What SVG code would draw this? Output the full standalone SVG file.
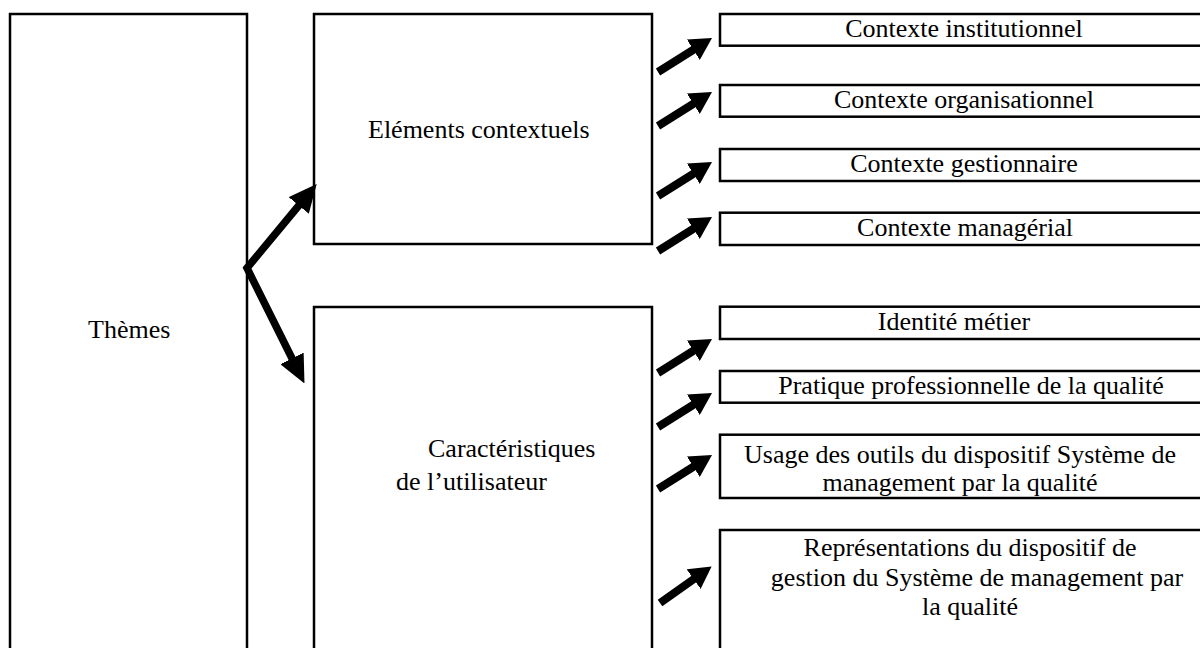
<svg xmlns="http://www.w3.org/2000/svg" width="1200" height="648" viewBox="0 0 1200 648">
<style>
.box{fill:#fff;stroke:#000;stroke-width:2.5}
.t{font-family:"Liberation Serif","Times New Roman",serif;font-size:26px;fill:#000}
.m{text-anchor:middle}
.sa{stroke:#000;stroke-width:8;fill:none;marker-end:url(#hs)}
.ba{stroke:#000;stroke-width:7.5;fill:none;stroke-linejoin:miter;marker-start:url(#hb);marker-end:url(#hb)}
</style>
<defs>
<marker id="hs" viewBox="0 0 22 24" markerWidth="22" markerHeight="24" refX="9" refY="12" orient="auto" markerUnits="userSpaceOnUse">
<path d="M0,0 L22,12 L0,24 z" fill="#000"/>
</marker>
<marker id="hb" viewBox="0 0 28 26" markerWidth="28" markerHeight="26" refX="13" refY="13" orient="auto-start-reverse" markerUnits="userSpaceOnUse">
<path d="M0,0 L28,13 L0,26 z" fill="#000"/>
</marker>
</defs>
<rect width="1200" height="648" fill="#fff"/>
<g id="themes">
<rect class="box" x="10" y="14" width="237" height="660"/>
<text class="t" x="88" y="338">Thèmes</text>
</g>
<g id="elements">
<rect class="box" x="314" y="14" width="338" height="230"/>
<text class="t" x="368" y="138">Eléments contextuels</text>
</g>
<g id="caracteristiques">
<rect class="box" x="314" y="307" width="338" height="370"/>
<text class="t" x="428" y="457">Caractéristiques</text>
<text class="t" x="396" y="490">de l’utilisateur</text>
</g>
<g id="ctx-inst">
<rect class="box" x="720" y="14" width="500" height="31.7"/>
<text class="t m" x="964" y="37">Contexte institutionnel</text>
</g>
<g id="ctx-org">
<rect class="box" x="720" y="85" width="500" height="31.7"/>
<text class="t m" x="964" y="108">Contexte organisationnel</text>
</g>
<g id="ctx-gest">
<rect class="box" x="720" y="149" width="500" height="32"/>
<text class="t m" x="964" y="172">Contexte gestionnaire</text>
</g>
<g id="ctx-man">
<rect class="box" x="720" y="212.7" width="500" height="32.3"/>
<text class="t m" x="965" y="236">Contexte managérial</text>
</g>
<g id="identite">
<rect class="box" x="720" y="306.7" width="500" height="32.3"/>
<text class="t m" x="954" y="330">Identité métier</text>
</g>
<g id="pratique">
<rect class="box" x="720" y="371" width="500" height="31.7"/>
<text class="t m" x="971" y="394">Pratique professionnelle de la qualité</text>
</g>
<g id="usage">
<rect class="box" x="720" y="434.7" width="500" height="63.3"/>
<text class="t m" x="960" y="463">Usage des outils du dispositif Système de</text>
<text class="t m" x="960" y="491">management par la qualité</text>
</g>
<g id="representations">
<rect class="box" x="720" y="530" width="500" height="150"/>
<text class="t m" x="970" y="556">Représentations du dispositif de</text>
<text class="t m" x="977" y="586">gestion du Système de management par</text>
<text class="t m" x="970" y="615">la qualité</text>
</g>
<g id="connectors">
<path class="ba" d="M307.1,195.5 L247,268 L297.8,370"/>
<line class="sa" x1="658" y1="72" x2="701" y2="45"/>
<line class="sa" x1="658" y1="126" x2="701" y2="99"/>
<line class="sa" x1="658" y1="196" x2="701" y2="169"/>
<line class="sa" x1="658" y1="251" x2="701" y2="224"/>
<line class="sa" x1="658" y1="373" x2="701" y2="346"/>
<line class="sa" x1="658" y1="427" x2="701" y2="400"/>
<line class="sa" x1="658" y1="489" x2="701" y2="462"/>
<line class="sa" x1="660" y1="603" x2="701" y2="574"/>
</g>
</svg>
